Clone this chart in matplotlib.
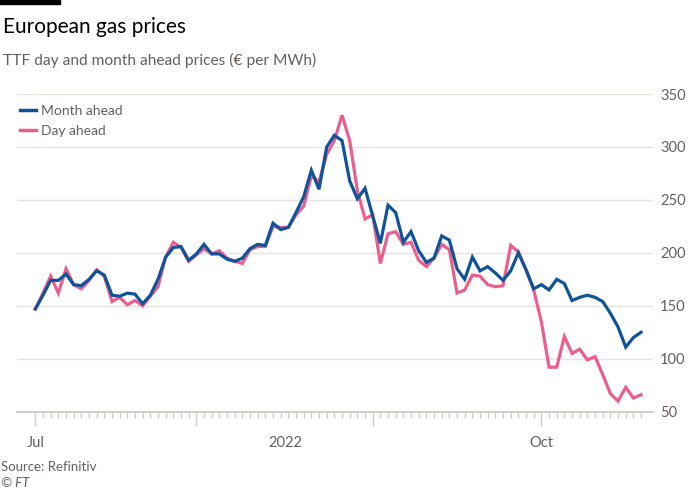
import matplotlib
matplotlib.use("Agg")
import matplotlib.pyplot as plt
import matplotlib.transforms as mtransforms
from matplotlib.lines import Line2D
import pandas as pd

plt.rcParams['font.family'] = ['Lato', 'DejaVu Sans']

# business days, 1 Jul - 20 Oct 2022
dates = pd.bdate_range('2022-07-01', '2022-10-20')

month_ahead = [147, 160, 174, 174, 180, 170, 169, 175, 183, 179,
               160, 159, 162, 161, 152, 160, 175, 196, 205, 206,
               193, 199, 208, 199, 199, 194, 192, 195, 204, 208,
               207, 228, 222, 224, 238, 253, 278, 260, 300, 311,
               306, 268, 251, 261, 235, 209, 245, 238, 210, 220,
               202, 191, 195, 216, 212, 185, 175, 196, 183, 187,
               181, 174, 183, 200, 184, 166, 170, 165, 175, 171,
               155, 158, 160, 158, 154, 143, 130, 111, 120, 125]

day_ahead = [147, 162, 178, 162, 185, 170, 166, 174, 184, 178,
             154, 158, 151, 155, 150, 159, 168, 196, 210, 205,
             192, 198, 204, 199, 202, 195, 192, 190, 203, 206,
             206, 225, 224, 224, 236, 244, 273, 267, 293, 306,
             330, 306, 259, 232, 236, 190, 218, 220, 208, 210,
             193, 187, 195, 208, 203, 162, 165, 179, 178, 170,
             168, 169, 207, 201, 184, 165, 135, 92, 92, 121,
             105, 109, 99, 102, 85, 67, 60, 73, 63, 66]

y_ticks = [50, 100, 150, 200, 250, 300, 350]

BLUE = '#0f5499'
PINK = '#eb5f8e'
GRID = '#ebe3da'
AXIS = '#d6cdc4'
TXT = '#33302e'
SUB = '#66605c'

fig = plt.figure(figsize=(7, 5), dpi=100)
ax = fig.add_axes([17 / 700, 1 - 411.7 / 500, (653 - 17) / 700, (411.7 - 94) / 500])

x = list(range(len(dates)))
ax.plot(x, day_ahead, color=PINK, lw=2.3, solid_joinstyle='miter', zorder=3)
ax.plot(x, month_ahead, color=BLUE, lw=2.3, solid_joinstyle='miter', zorder=4)

ax.set_xlim(-2.39, 80.56)
ax.set_ylim(50, 350)

for s in ['top', 'left', 'right']:
    ax.spines[s].set_visible(False)
ax.spines['bottom'].set_color(AXIS)
ax.spines['bottom'].set_linewidth(1.5)

ax.yaxis.tick_right()
ax.set_yticks(y_ticks)
ax.set_yticklabels([str(v) for v in y_ticks])
ax.tick_params(axis='y', length=0, pad=5, labelsize=10.5, labelcolor=SUB)
ax.grid(axis='y', color=GRID, lw=1)
ax.set_axisbelow(True)

# month starts -> major ticks, every business day -> minor ticks
months = pd.Series(dates.month)
major = [i for i in x if i == 0 or months[i] != months[i - 1]]
ax.set_xticks(major)
ax.set_xticklabels([])
ax.set_xticks(x, minor=True)
ax.tick_params(axis='x', which='major', length=10, width=1, color=AXIS)
ax.tick_params(axis='x', which='minor', length=4.5, width=1, color=AXIS)

trans = mtransforms.blended_transform_factory(ax.transData, fig.transFigure)
for pos, lab in [(0, 'Jul'), (32.6, '2022'), (66, 'Oct')]:
    ax.text(pos, 1 - 443 / 500, lab, transform=trans, ha='center', va='center',
            fontsize=10.5, color=SUB)

handles = [Line2D([], [], color=BLUE, lw=2.5), Line2D([], [], color=PINK, lw=2.5)]
fig.legend(handles, ['Month ahead', 'Day ahead'], loc='upper left',
           bbox_to_anchor=(20 / 700, 1 - 105 / 500), frameon=False,
           fontsize=10, labelcolor=SUB, handlelength=1.15, handletextpad=0.35,
           labelspacing=0.6, borderaxespad=0, borderpad=0)

# header / footer
fig.add_artist(plt.Rectangle((0, 1 - 4 / 500), 60 / 700, 4 / 500,
                             transform=fig.transFigure, color='black'))
fig.text(3 / 700, 1 - 27 / 500, 'European gas prices', fontsize=15,
         color='black', va='center', ha='left')
fig.text(3 / 700, 1 - 60 / 500, 'TTF day and month ahead prices (€ per MWh)',
         fontsize=11.2, color=SUB, va='center', ha='left')
fig.text(1 / 700, 1 - 467 / 500, 'Source: Refinitiv', fontsize=9.5,
         color=SUB, va='center', ha='left')
fig.text(1 / 700, 1 - 483 / 500, '© FT', fontsize=9.5, style='italic',
         color=SUB, va='center', ha='left')

fig.savefig('out.png', dpi=100, facecolor='white')
